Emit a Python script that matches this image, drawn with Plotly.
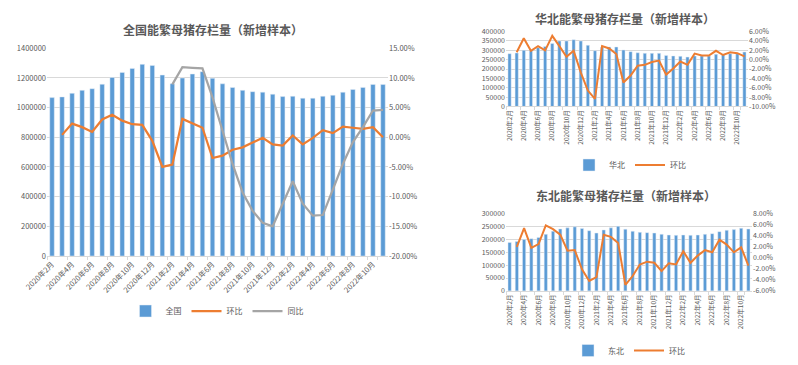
import plotly.graph_objects as go

months = ["2020年2月", "2020年3月", "2020年4月", "2020年5月", "2020年6月", "2020年7月",
          "2020年8月", "2020年9月", "2020年10月", "2020年11月", "2020年12月",
          "2021年1月", "2021年2月", "2021年3月", "2021年4月", "2021年5月", "2021年6月",
          "2021年7月", "2021年8月", "2021年9月", "2021年10月", "2021年11月", "2021年12月",
          "2022年1月", "2022年2月", "2022年3月", "2022年4月", "2022年5月", "2022年6月",
          "2022年7月", "2022年8月", "2022年9月", "2022年10月", "2022年11月"]
tick_months = months[::2]

# 全国
national = [1067000, 1072000, 1096000, 1116000, 1127000, 1157000, 1203000, 1237000,
            1264000, 1291000, 1284000, 1219000, 1161000, 1199000, 1226000, 1242000,
            1197000, 1160000, 1135000, 1116000, 1107000, 1104000, 1090000, 1074000,
            1076000, 1063000, 1063000, 1076000, 1083000, 1103000, 1122000, 1136000,
            1156000, 1155000]
national_mom = [None, 0.4, 2.3, 1.7, 0.9, 3.0, 3.8, 2.8, 2.2, 2.1, -0.6, -5.0, -4.6,
                3.1, 2.3, 1.6, -3.5, -3.1, -2.1, -1.7, -0.9, -0.1, -1.2, -1.4, 0.3,
                -1.2, -0.1, 1.2, 0.7, 1.8, 1.6, 1.4, 1.7, 0.0]
national_yoy = [None] * 12 + [8.9, 11.8, 11.7, 11.6, 6.7, 1.1, -4.5, -9.3, -12.4,
                              -14.4, -15.0, -11.2, -7.4, -11.2, -13.2, -13.1, -8.7,
                              -4.5, -0.8, 1.7, 4.5, 4.6]

# 华北
north = [282000, 286000, 300000, 300000, 314000, 321000, 337000, 350000, 350000,
         357000, 350000, 327000, 298000, 316000, 318000, 318000, 302000, 293000,
         287000, 284000, 284000, 284000, 273000, 270000, 268000, 264000, 270000,
         270000, 270000, 279000, 279000, 282000, 282000, 291000]
north_mom = [None, 1.6, 4.6, 1.9, 2.9, 2.0, 5.1, 2.9, 0.6, 1.9, -2.7, -6.6, -8.4,
             2.9, 2.4, 1.2, -4.9, -3.4, -1.3, -1.1, -0.5, -0.2, -3.2, -1.9, -0.4,
             -1.1, 1.3, 0.9, 0.9, 1.9, 1.0, 1.6, 1.4, 0.7]

# 东北
northeast = [188500, 192400, 200000, 203000, 208000, 220000, 232000, 241000, 245000,
             249000, 243000, 234000, 225000, 237000, 245000, 251000, 240000, 231700,
             227700, 226400, 225000, 220000, 217300, 216000, 217300, 216000, 217300,
             220000, 222500, 230400, 235600, 238200, 243500, 240800]
northeast_mom = [None, 2.0, 5.4, 1.8, 2.5, 5.9, 5.2, 4.2, 1.3, 1.4, -2.1, -4.2, -3.5,
                 4.2, 3.8, 2.7, -4.9, -3.3, -1.2, -0.7, -0.9, -2.4, -1.0, -1.2, 1.2,
                 -0.9, 0.4, 1.4, 1.0, 3.3, 2.4, 1.0, 1.9, -1.4]

pct_main = [-20, -15, -10, -5, 0, 5, 10, 15]
pct_north = [-10, -8, -6, -4, -2, 0, 2, 4, 6]
pct_ne = [-6, -4, -2, 0, 2, 4, 6, 8]


def pct_text(vals):
    return [f"{v:.2f}%" for v in vals]


BLUE = "#5B9BD5"
ORANGE = "#ED7D31"
GRAY = "#A5A5A5"
TXT = "#595959"
GRID = "#D9D9D9"
FONT = "Noto Sans CJK SC, DejaVu Sans, sans-serif"

# page body has an 8px margin; figure occupies the rest of the window
OFF = 8
W, H = 798 - OFF, 365 - OFF


def px_x(a, b):
    return [(a - OFF) / W, (b - OFF) / W]


def px_y(top, bottom):
    return [1 - (bottom - OFF) / H, 1 - (top - OFF) / H]


def pos_x(a):
    return (a - OFF) / W


def pos_y(a):
    return 1 - (a - OFF) / H


fig = go.Figure()

fig.add_trace(go.Bar(x=months, y=national, name="全国", marker_color=BLUE,
                     xaxis="x", yaxis="y", legend="legend"))
fig.add_trace(go.Scatter(x=months, y=national_mom, name="环比", mode="lines",
                         line=dict(color=ORANGE, width=2.25), xaxis="x", yaxis="y2",
                         legend="legend"))
fig.add_trace(go.Scatter(x=months, y=national_yoy, name="同比", mode="lines",
                         line=dict(color=GRAY, width=2.25), xaxis="x", yaxis="y2",
                         legend="legend"))

fig.add_trace(go.Bar(x=months, y=north, name="华北", marker_color=BLUE,
                     xaxis="x2", yaxis="y3", legend="legend2"))
fig.add_trace(go.Scatter(x=months, y=north_mom, name="环比", mode="lines",
                         line=dict(color=ORANGE, width=2), xaxis="x2", yaxis="y4",
                         legend="legend2"))

fig.add_trace(go.Bar(x=months, y=northeast, name="东北", marker_color=BLUE,
                     xaxis="x3", yaxis="y5", legend="legend3"))
fig.add_trace(go.Scatter(x=months, y=northeast_mom, name="环比", mode="lines",
                         line=dict(color=ORANGE, width=2), xaxis="x3", yaxis="y6",
                         legend="legend3"))

tick_font = dict(family=FONT, size=7.5, color=TXT)
small_font = dict(family=FONT, size=7, color=TXT)

xcommon = dict(type="category", tickvals=tick_months, showgrid=False, zeroline=False,
               showline=True, linecolor=GRID, linewidth=1, ticks="outside",
               ticklen=3, tickcolor=GRID, tickson="boundaries", automargin=False)
ycommon = dict(zeroline=False, automargin=False, ticks="")

fig.update_layout(
    width=W, height=H, autosize=False,
    margin=dict(l=0, r=0, t=0, b=0),
    paper_bgcolor="white", plot_bgcolor="white",
    font=dict(family=FONT, color=TXT),
    bargap=0.55,
    showlegend=True,
    xaxis=dict(domain=px_x(47, 388), anchor="y", tickangle=-45,
               tickfont=dict(family=FONT, size=7.5, color=TXT), **xcommon),
    yaxis=dict(domain=px_y(48.3, 256.7), anchor="x", range=[0, 1400000], dtick=200000,
               tickformat="d", gridcolor=GRID, gridwidth=1,
               tickfont=tick_font, **ycommon),
    yaxis2=dict(overlaying="y", side="right", anchor="x", range=[-20, 15],
                tickvals=pct_main, ticktext=pct_text(pct_main), showgrid=False,
                tickfont=tick_font, **ycommon),
    xaxis2=dict(domain=px_x(506, 748), anchor="y3", tickangle=-90,
                tickfont=dict(family=FONT, size=6.5, color=TXT), **xcommon),
    yaxis3=dict(domain=px_y(31.7, 106.7), anchor="x2", range=[0, 400000], dtick=50000,
                tickformat="d", gridcolor=GRID, tickfont=small_font, **ycommon),
    yaxis4=dict(overlaying="y3", side="right", anchor="x2", range=[-10, 6],
                tickvals=pct_north, ticktext=pct_text(pct_north), showgrid=False,
                tickfont=small_font, **ycommon),
    xaxis3=dict(domain=px_x(506, 752), anchor="y5", tickangle=-90,
                tickfont=dict(family=FONT, size=6.5, color=TXT), **xcommon),
    yaxis5=dict(domain=px_y(214.3, 291.7), anchor="x3", range=[0, 300000], dtick=50000,
                tickformat="d", gridcolor=GRID, tickfont=small_font, **ycommon),
    yaxis6=dict(overlaying="y5", side="right", anchor="x3", range=[-6, 8],
                tickvals=pct_ne, ticktext=pct_text(pct_ne), showgrid=False,
                tickfont=small_font, **ycommon),
    legend=dict(x=pos_x(217), y=pos_y(311), xanchor="center", yanchor="middle",
                orientation="h", font=dict(family=FONT, size=8, color=TXT),
                bgcolor="rgba(0,0,0,0)", itemwidth=30, tracegroupgap=0),
    legend2=dict(x=pos_x(630), y=pos_y(165), xanchor="center", yanchor="middle",
                 orientation="h", font=dict(family=FONT, size=8, color=TXT),
                 bgcolor="rgba(0,0,0,0)", itemwidth=30),
    legend3=dict(x=pos_x(629), y=pos_y(351), xanchor="center", yanchor="middle",
                 orientation="h", font=dict(family=FONT, size=8, color=TXT),
                 bgcolor="rgba(0,0,0,0)", itemwidth=30),
    annotations=[
        dict(text="<b>全国能繁母猪存栏量（新增样本）</b>", x=pos_x(213), y=pos_y(30),
             xref="paper", yref="paper", showarrow=False, xanchor="center",
             yanchor="middle", font=dict(family=FONT, size=12, color=TXT)),
        dict(text="<b>华北能繁母猪存栏量（新增样本）</b>", x=pos_x(625), y=1.0,
             xref="paper", yref="paper", showarrow=False, xanchor="center",
             yanchor="top", font=dict(family=FONT, size=12, color=TXT)),
        dict(text="<b>东北能繁母猪存栏量（新增样本）</b>", x=pos_x(626), y=pos_y(196),
             xref="paper", yref="paper", showarrow=False, xanchor="center",
             yanchor="middle", font=dict(family=FONT, size=12, color=TXT)),
    ],
)

fig.write_html("out.html", config={"displayModeBar": False})
